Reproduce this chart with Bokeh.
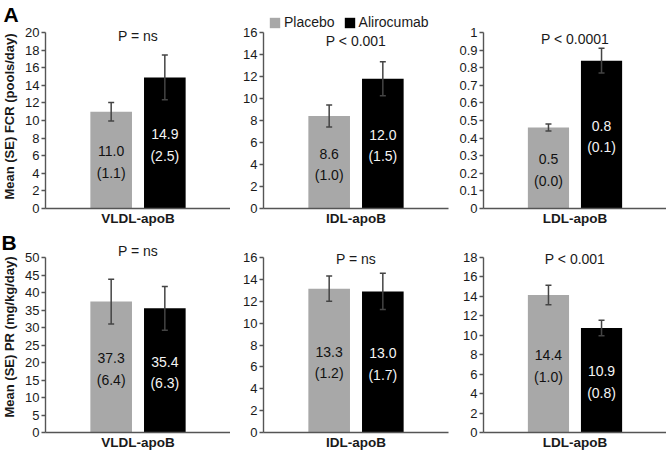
import math
from bokeh.plotting import figure
from bokeh.layouts import row, column
from bokeh.models import (ColumnDataSource, FactorRange, Range1d, SingleIntervalTicker,
                          CustomJSTickFormatter, Label, Legend, LegendItem)
from bokeh.core.properties import value
from bokeh.transform import dodge
from bokeh.embed import file_html
from bokeh.resources import INLINE

# ---------------- data ----------------
categories = ["VLDL-apoB", "IDL-apoB", "LDL-apoB"]

# Panel A: FCR (pools/day)
fcr_placebo = [11.0, 8.4, 0.46]
fcr_placebo_se = [1.05, 1.0, 0.02]
fcr_alirocumab = [14.9, 11.8, 0.84]
fcr_alirocumab_se = [2.55, 1.55, 0.07]
fcr_placebo_labels = ["11.0\n(1.1)", "8.6\n(1.0)", "0.5\n(0.0)"]
fcr_alirocumab_labels = ["14.9\n(2.5)", "12.0\n(1.5)", "0.8\n(0.1)"]
fcr_pvalues = ["P = ns", "P < 0.001", "P < 0.0001"]
fcr_ymax = [20, 16, 1]
fcr_ystep = [2, 2, 0.1]

# Panel B: PR (mg/kg/day)
pr_placebo = [37.4, 13.15, 14.15]
pr_placebo_se = [6.4, 1.15, 1.0]
pr_alirocumab = [35.5, 12.9, 10.75]
pr_alirocumab_se = [6.25, 1.65, 0.8]
pr_placebo_labels = ["37.3\n(6.4)", "13.3\n(1.2)", "14.4\n(1.0)"]
pr_alirocumab_labels = ["35.4\n(6.3)", "13.0\n(1.7)", "10.9\n(0.8)"]
pr_pvalues = ["P = ns", "P = ns", "P < 0.001"]
pr_ymax = [50, 16, 18]
pr_ystep = [5, 2, 2]

series_names = ["Placebo", "Alirocumab"]
row_letters = ["A", "B"]
row_ylabels = ["Mean (SE) FCR (pools/day)", "Mean (SE) PR (mg/kg/day)"]

# ---------------- style / layout ----------------
FONT = "Liberation Sans"
PLACEBO_COLOR = "#a8a8a8"
ALIRO_COLOR = "#000000"
ERR_COLOR = "#444444"
AXIS_COLOR = "#555555"
TEXT_COLOR = "#1a1a1a"

label_col_w = 22
col_widths = [208, 220, 216]
col_left = [21, 33, 33]
col_right = [0, 2, 0]
row_heights = [228, 224]
axis_top = [32, 29]           # px from figure top to axis top
row_bottom = [20, 20]
p_offsets = [[3, 8, 6], [-7, 1.3, 1.3]]   # px below axis top
letter_x = [3, 1]
ylabel_shift = [4, 8]

OFF = 0.145
BW = 0.225

rows_data = [
    (fcr_placebo, fcr_placebo_se, fcr_alirocumab, fcr_alirocumab_se,
     fcr_placebo_labels, fcr_alirocumab_labels, fcr_pvalues, fcr_ymax, fcr_ystep),
    (pr_placebo, pr_placebo_se, pr_alirocumab, pr_alirocumab_se,
     pr_placebo_labels, pr_alirocumab_labels, pr_pvalues, pr_ymax, pr_ystep),
]

rows = []
for r, (pl, pl_se, al, al_se, pl_lab, al_lab, pvals, ymaxs, ysteps) in enumerate(rows_data):
    H = row_heights[r]
    frame_h = H - row_bottom[r]
    axis_h = frame_h - axis_top[r]

    # left strip: panel letter + rotated y-axis title (frame aligned with the row)
    L = figure(width=label_col_w, height=H, x_range=Range1d(0, 1), y_range=Range1d(0, 1),
               x_axis_type=None, y_axis_type=None, output_backend="svg",
               toolbar_location=None, min_border=0, min_border_bottom=row_bottom[r],
               outline_line_color=None)
    L.xgrid.visible = False
    L.ygrid.visible = False
    L.add_layout(Label(x=letter_x[r], x_units="screen", y=frame_h - 2, y_units="screen",
                       text=row_letters[r], text_align="left", text_baseline="top",
                       text_font=FONT, text_font_style="bold", text_font_size="21px",
                       text_color="#000000"))
    L.add_layout(Label(x=9, x_units="screen", y=axis_h / 2 + ylabel_shift[r], y_units="screen",
                       text=row_ylabels[r], angle=math.pi / 2,
                       text_align="center", text_baseline="middle",
                       text_font=FONT, text_font_style="bold", text_font_size="13px",
                       text_color=TEXT_COLOR))
    children = [L]

    for c, cat in enumerate(categories):
        yend = ymaxs[c] * frame_h / axis_h
        p = figure(width=col_widths[c], height=H,
                   x_range=FactorRange(factors=[cat], range_padding=0),
                   y_range=Range1d(0, yend),
                   output_backend="svg", toolbar_location=None,
                   min_border_left=col_left[c], min_border_right=col_right[c],
                   min_border_top=0, min_border_bottom=row_bottom[r],
                   background_fill_color="white", border_fill_color="white")
        p.outline_line_color = None
        p.xgrid.visible = False
        p.ygrid.visible = False

        src = ColumnDataSource(dict(
            cat=[cat],
            pl=[pl[c]], al=[al[c]],
            pl_lo=[pl[c] - pl_se[c]], pl_hi=[pl[c] + pl_se[c]],
            al_lo=[al[c] - al_se[c]], al_hi=[al[c] + al_se[c]],
            pl_mid=[pl[c] / 2], al_mid=[al[c] / 2],
            pl_lab=[pl_lab[c]], al_lab=[al_lab[c]],
        ))
        xpl = dodge("cat", -OFF, range=p.x_range)
        xal = dodge("cat", OFF, range=p.x_range)
        rpl = p.vbar(x=xpl, top="pl", width=BW, source=src,
                     fill_color=PLACEBO_COLOR, line_color=None)
        ral = p.vbar(x=xal, top="al", width=BW, source=src,
                     fill_color=ALIRO_COLOR, line_color=None)
        for xx, lo, hi in [(xpl, "pl_lo", "pl_hi"), (xal, "al_lo", "al_hi")]:
            p.segment(x0=xx, x1=xx, y0=lo, y1=hi, source=src,
                      line_color=ERR_COLOR, line_width=1.5)
            p.scatter(x=xx, y=lo, source=src, marker="dash", size=6,
                      line_color=ERR_COLOR, line_width=1.5)
            p.scatter(x=xx, y=hi, source=src, marker="dash", size=6,
                      line_color=ERR_COLOR, line_width=1.5)
        p.text(x=xpl, y="pl_mid", text="pl_lab", source=src, y_offset=2,
               text_align="center", text_baseline="middle",
               text_font=value(FONT), text_font_size="14px",
               text_color="#111111", text_line_height=1.35)
        p.text(x=xal, y="al_mid", text="al_lab", source=src, y_offset=2,
               text_align="center", text_baseline="middle",
               text_font=value(FONT), text_font_size="14px",
               text_color="#f4f4f4", text_line_height=1.35)

        # P-value
        p.add_layout(Label(x=0.5, x_units="data",
                           y=axis_h - p_offsets[r][c], y_units="screen",
                           text=pvals[c], text_align="center", text_baseline="middle",
                           text_font=FONT, text_font_size="14px", text_color=TEXT_COLOR))

        # axes
        p.yaxis.bounds = (0, ymaxs[c])
        p.yaxis.ticker = SingleIntervalTicker(interval=ysteps[c])
        p.yaxis.formatter = CustomJSTickFormatter(
            code="return (Math.round(tick*10)/10).toString();")
        p.yaxis.minor_tick_line_color = None
        p.yaxis.major_tick_in = 0
        p.yaxis.major_tick_out = 4
        p.yaxis.major_label_standoff = 2
        p.yaxis.axis_line_color = AXIS_COLOR
        p.yaxis.axis_line_width = 1.4
        p.yaxis.major_tick_line_color = AXIS_COLOR
        p.yaxis.major_tick_line_width = 1.3
        p.yaxis.major_label_text_font = FONT
        p.yaxis.major_label_text_font_size = "13px"
        p.yaxis.major_label_text_color = TEXT_COLOR

        p.xaxis.major_tick_line_color = None
        p.xaxis.minor_tick_line_color = None
        p.xaxis.major_tick_in = 0
        p.xaxis.major_tick_out = 0
        p.xaxis.major_label_standoff = 2
        p.xaxis.axis_line_color = AXIS_COLOR
        p.xaxis.axis_line_width = 1.4
        p.xaxis.major_label_text_font = FONT
        p.xaxis.major_label_text_font_style = "bold"
        p.xaxis.major_label_text_font_size = "13.5px"
        p.xaxis.major_label_text_color = TEXT_COLOR

        if r == 0 and c == 1:
            legend = Legend(items=[LegendItem(label=series_names[0], renderers=[rpl]),
                                   LegendItem(label=series_names[1], renderers=[ral])],
                            orientation="horizontal", location=(5, axis_h + 2),
                            padding=0, margin=0, spacing=8, label_standoff=3,
                            glyph_width=13, glyph_height=13, label_height=13,
                            border_line_color=None, background_fill_alpha=0,
                            label_text_font=FONT, label_text_font_size="14px",
                            label_text_color=TEXT_COLOR)
            p.add_layout(legend)
        children.append(p)
    rows.append(row(children, spacing=0))

layout = column(rows, spacing=0)

open("out.html", "w").write(file_html(layout, INLINE))
